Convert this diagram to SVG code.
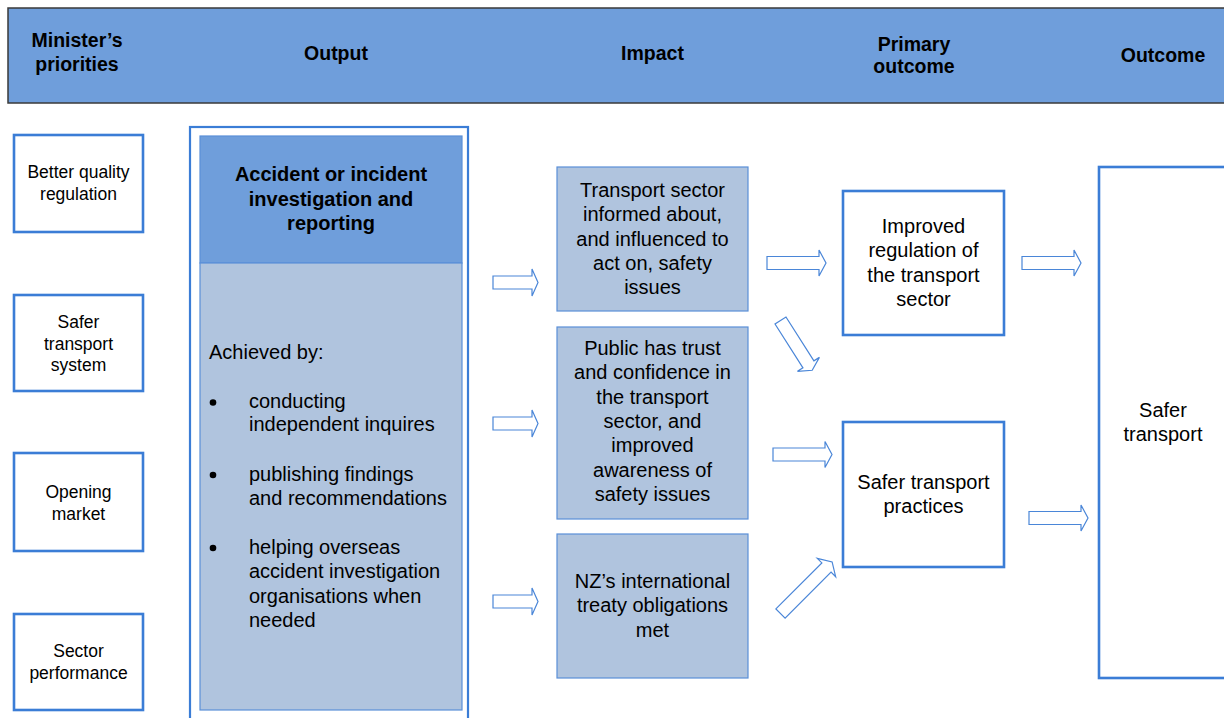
<svg xmlns="http://www.w3.org/2000/svg" width="1224" height="718" viewBox="0 0 1224 718">
  <style>
    text { font-family: "Liberation Sans", Arial, sans-serif; fill: #000; }
    .hd { font-size: 19.5px; font-weight: bold; text-anchor: middle; }
    .ttl { font-size: 20px; font-weight: bold; text-anchor: middle; }
    .sm { font-size: 17.5px; text-anchor: middle; }
    .md { font-size: 20px; text-anchor: middle; }
    .lf { font-size: 20px; }
    .wbox { fill: #fff; stroke: #3b7dd6; stroke-width: 2.6; }
    .ibox { fill: #b0c4de; stroke: #5a8fd8; stroke-width: 1.2; }
    .dbox { fill: #6f9edb; stroke: #5a8fd8; stroke-width: 1.2; }
    .arr { fill: #fff; stroke: #4a86d8; stroke-width: 1.2; stroke-linejoin: miter; }
  </style>
  <defs>
    <path id="a45" d="M0,-6.5 H39 V-13.5 L45,0 L39,13.5 V6.5 H0 Z"/>
    <path id="a59" d="M0,-6.5 H52 V-13 L59,0 L52,13 V6.5 H0 Z"/>
    <path id="a73" d="M0,-6.5 H65 V-13 L73,0 L65,13 V6.5 H0 Z"/>
  </defs>

  <!-- column header band -->
  <g id="header">
    <rect x="8" y="8" width="1230" height="95" fill="#6f9edb" stroke="#3a3a3a" stroke-width="1.5"/>
    <text class="hd" x="77" y="47">Minister’s</text>
    <text class="hd" x="77" y="70.5">priorities</text>
    <text class="hd" x="336" y="60">Output</text>
    <text class="hd" x="652.5" y="60">Impact</text>
    <text class="hd" x="914" y="50.5">Primary</text>
    <text class="hd" x="914" y="73">outcome</text>
    <text class="hd" x="1163" y="61.5">Outcome</text>
  </g>

  <!-- Minister's priorities -->
  <g id="prio-regulation">
    <rect class="wbox" x="14" y="135" width="129" height="97"/>
    <text class="sm" x="78.5" y="178">Better quality</text>
    <text class="sm" x="78.5" y="200">regulation</text>
  </g>
  <g id="prio-safer-system">
    <rect class="wbox" x="14" y="295" width="129" height="96"/>
    <text class="sm" x="78.5" y="328">Safer</text>
    <text class="sm" x="78.5" y="349.5">transport</text>
    <text class="sm" x="78.5" y="371">system</text>
  </g>
  <g id="prio-market">
    <rect class="wbox" x="14" y="453" width="129" height="98"/>
    <text class="sm" x="78.5" y="498">Opening</text>
    <text class="sm" x="78.5" y="519.5">market</text>
  </g>
  <g id="prio-performance">
    <rect class="wbox" x="14" y="614" width="129" height="96"/>
    <text class="sm" x="78.5" y="657">Sector</text>
    <text class="sm" x="78.5" y="679">performance</text>
  </g>

  <!-- Output -->
  <g id="output">
    <rect x="190" y="127" width="278" height="600" fill="#fff" stroke="#3b7dd6" stroke-width="2.2"/>
    <rect class="dbox" x="200" y="136" width="262" height="127"/>
    <text class="ttl" x="331" y="181">Accident or incident</text>
    <text class="ttl" x="331" y="205.5">investigation and</text>
    <text class="ttl" x="331" y="230">reporting</text>
    <rect class="ibox" x="200" y="263" width="262" height="447"/>
    <text class="lf" x="209" y="359">Achieved by:</text>
    <circle cx="213" cy="402.5" r="3.3"/>
    <text class="lf" x="249" y="407.5">conducting</text>
    <text class="lf" x="249" y="431">independent inquires</text>
    <circle cx="213" cy="475" r="3.3"/>
    <text class="lf" x="249" y="481">publishing findings</text>
    <text class="lf" x="249" y="504.5">and recommendations</text>
    <circle cx="213" cy="548" r="3.3"/>
    <text class="lf" x="249" y="554">helping overseas</text>
    <text class="lf" x="249" y="578">accident investigation</text>
    <text class="lf" x="249" y="602.5">organisations when</text>
    <text class="lf" x="249" y="627">needed</text>
  </g>

  <!-- Impact -->
  <g id="impact-informed">
    <rect class="ibox" x="557" y="167" width="191" height="144"/>
    <text class="md" x="652.5" y="197">Transport sector</text>
    <text class="md" x="652.5" y="221.3">informed about,</text>
    <text class="md" x="652.5" y="245.6">and influenced to</text>
    <text class="md" x="652.5" y="270">act on, safety</text>
    <text class="md" x="652.5" y="294.2">issues</text>
  </g>
  <g id="impact-trust">
    <rect class="ibox" x="557" y="327" width="191" height="192"/>
    <text class="md" x="652.5" y="355">Public has trust</text>
    <text class="md" x="652.5" y="379.3">and confidence in</text>
    <text class="md" x="652.5" y="403.6">the transport</text>
    <text class="md" x="652.5" y="428">sector, and</text>
    <text class="md" x="652.5" y="452.3">improved</text>
    <text class="md" x="652.5" y="476.6">awareness of</text>
    <text class="md" x="652.5" y="501">safety issues</text>
  </g>
  <g id="impact-treaty">
    <rect class="ibox" x="557" y="534" width="191" height="144"/>
    <text class="md" x="652.5" y="588">NZ’s international</text>
    <text class="md" x="652.5" y="612.3">treaty obligations</text>
    <text class="md" x="652.5" y="636.7">met</text>
  </g>

  <!-- Primary outcome -->
  <g id="primary-regulation">
    <rect class="wbox" x="843" y="191" width="161" height="144"/>
    <text class="md" x="923.5" y="233">Improved</text>
    <text class="md" x="923.5" y="257.2">regulation of</text>
    <text class="md" x="923.5" y="281.5">the transport</text>
    <text class="md" x="923.5" y="305.8">sector</text>
  </g>
  <g id="primary-practices">
    <rect class="wbox" x="843" y="422" width="161" height="145"/>
    <text class="md" x="923.5" y="489.3">Safer transport</text>
    <text class="md" x="923.5" y="513.3">practices</text>
  </g>

  <!-- Outcome -->
  <g id="outcome">
    <rect class="wbox" x="1099" y="167" width="200" height="511"/>
    <text class="md" x="1163" y="416.7">Safer</text>
    <text class="md" x="1163" y="441">transport</text>
  </g>

  <!-- connectors -->
  <g id="connectors">
    <use href="#a45" class="arr" x="493" y="282.5"/>
    <use href="#a45" class="arr" x="493" y="423.5"/>
    <use href="#a45" class="arr" x="493" y="601.5"/>
    <use href="#a59" class="arr" x="767" y="263"/>
    <use href="#a59" class="arr" x="773" y="454.5"/>
    <use href="#a59" class="arr" x="1022" y="263"/>
    <use href="#a59" class="arr" x="1029" y="518"/>
    <use href="#a59" class="arr" transform="translate(780.5,320.5) rotate(57.5)"/>
    <use href="#a73" class="arr" transform="translate(780.5,613.5) rotate(-45)"/>
  </g>
</svg>
